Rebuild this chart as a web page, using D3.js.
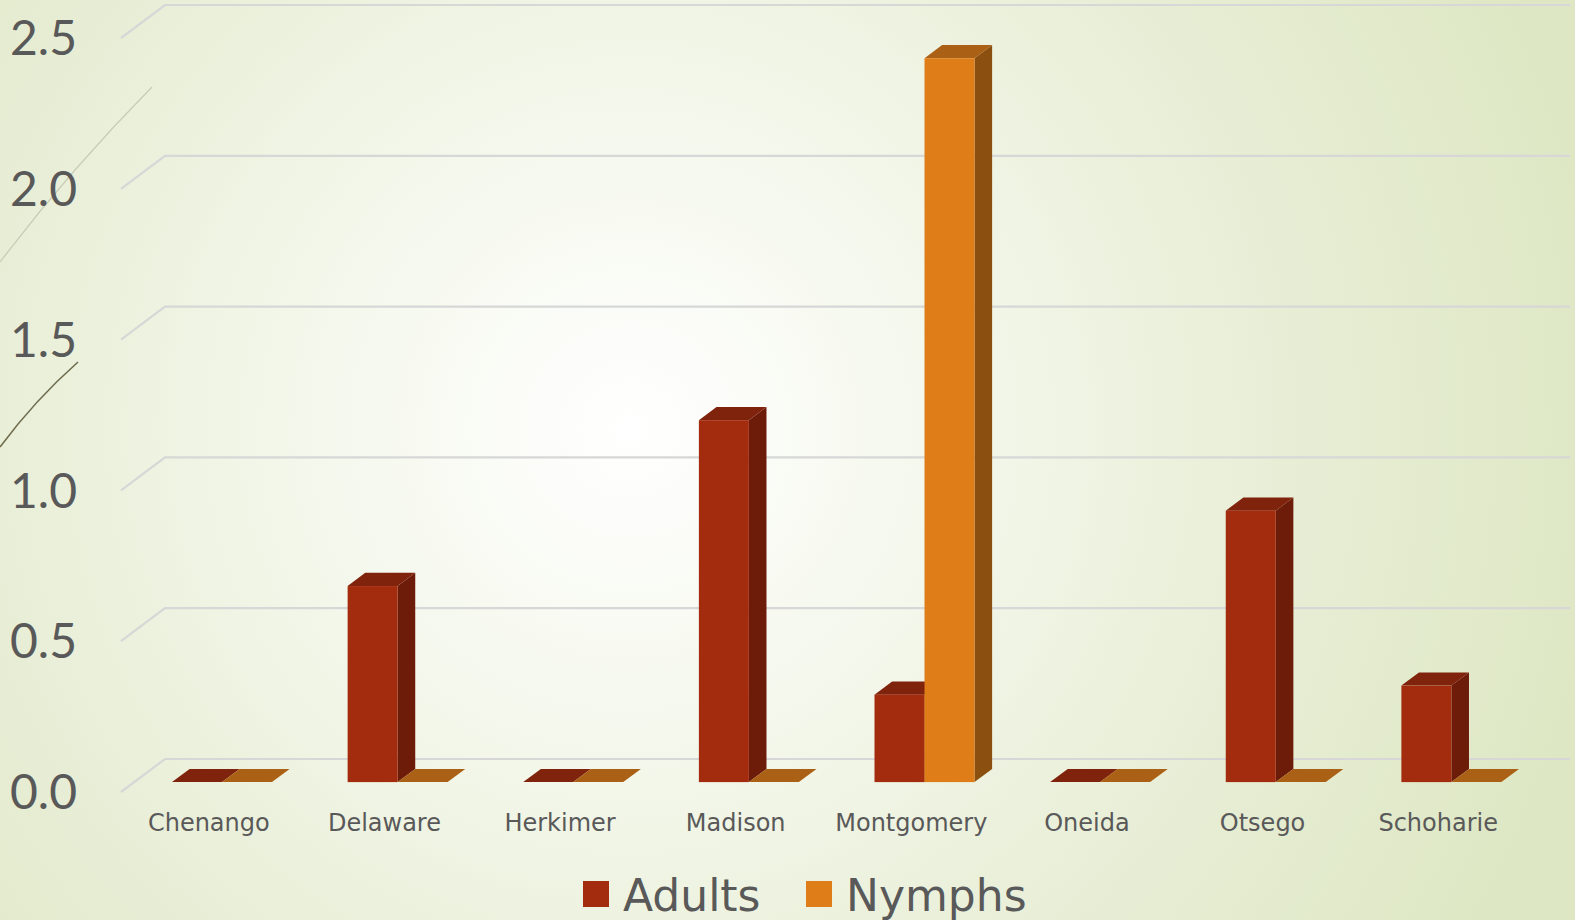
<!DOCTYPE html>
<html>
<head>
<meta charset="utf-8">
<script src="https://cdn.jsdelivr.net/npm/d3@7"></script>
<style>
  html, body { margin: 0; padding: 0; overflow: hidden; }
  #chart { width: 1575px; height: 920px; }
</style>
</head>
<body>
<div id="chart"></div>
<script>
// Data
const counties = ['Chenango', 'Delaware', 'Herkimer', 'Madison', 'Montgomery', 'Oneida', 'Otsego', 'Schoharie'];
const seriesNames = ['Adults', 'Nymphs'];
const adults = [0, 0.65, 0, 1.2, 0.29, 0, 0.9, 0.32];
const nymphs = [0, 0, 0, 0, 2.4, 0, 0, 0];
const yTicks = [0, 0.5, 1.0, 1.5, 2.0, 2.5];

const width = 1575;
const height = 920;

// oblique 3D look: depth offset of the back wall
const depthX = 44;
const depthY = 33;
const barZ0 = 0.3;   // front face of bars
const barZ1 = 0.7;   // back face of bars

const colors = {
  Adults: { front: '#a32c0e', side: '#6d1c0a', top: '#80230d' },
  Nymphs: { front: '#df7d19', side: '#8b500f', top: '#ab6115' }
};

const svg = d3.select('#chart')
  .append('svg')
  .attr('width', width)
  .attr('height', height);

// Background
const defs = svg.append('defs');
const bg = defs.append('radialGradient')
  .attr('id', 'bg')
  .attr('gradientUnits', 'userSpaceOnUse')
  .attr('cx', 630).attr('cy', 430).attr('r', 1000);
bg.append('stop').attr('offset', 0).attr('stop-color', '#ffffff');
bg.append('stop').attr('offset', 0.3).attr('stop-color', '#f5f8ed');
bg.append('stop').attr('offset', 0.65).attr('stop-color', '#e8eed6');
bg.append('stop').attr('offset', 1).attr('stop-color', '#dde7c3');

svg.append('rect')
  .attr('width', width).attr('height', height)
  .attr('fill', 'url(#bg)');

// theme decoration lines on the left
svg.append('path')
  .attr('d', 'M152,87 Q70,170 0,262')
  .attr('fill', 'none')
  .attr('stroke', '#c8cbb4')
  .attr('stroke-width', 1.2);
svg.append('path')
  .attr('d', 'M78,362 Q35,400 0,447')
  .attr('fill', 'none')
  .attr('stroke', '#6f6b4c')
  .attr('stroke-width', 1.6);

// Scales (front plane)
const x = d3.scaleBand()
  .domain(counties)
  .range([121, 1526])
  .paddingInner(0)
  .paddingOuter(0);

const xSub = d3.scaleBand()
  .domain(seriesNames)
  .range([0, x.bandwidth()])
  .paddingInner(0)
  .paddingOuter(0.756);

const y = d3.scaleLinear()
  .domain([0, 2.5])
  .range([792, 38]);

function proj(px, py, z) {
  return [px + z * depthX, py - z * depthY];
}

function poly(points) {
  return 'M' + points.map(p => p.join(',')).join('L') + 'Z';
}

// Gridlines: back wall + left wall
const grid = svg.append('g');
const [x0, x1] = x.range();
yTicks.forEach(t => {
  const a = proj(x0, y(t), 0);
  const b = proj(x0, y(t), 1);
  const c = proj(x1, y(t), 1);
  grid.append('path')
    .attr('d', `M${a[0]},${a[1]}L${b[0]},${b[1]}L${c[0]},${c[1]}`)
    .attr('fill', 'none')
    .attr('stroke', '#d6d7d6')
    .attr('stroke-width', 2.2);
});

// Y axis labels
svg.append('g')
  .selectAll('text')
  .data(yTicks)
  .join('text')
  .attr('x', 77)
  .attr('y', d => y(d))
  .attr('dy', '0.36em')
  .attr('text-anchor', 'end')
  .attr('font-family', 'Lato, sans-serif')
  .attr('font-size', 48)
  .attr('fill', '#595959')
  .text(d => d3.format('.1f')(d));

// Bars
const rows = [];
counties.forEach((c, i) => {
  rows.push({ county: c, series: 'Adults', value: adults[i] });
  rows.push({ county: c, series: 'Nymphs', value: nymphs[i] });
});

const bars = svg.append('g');
rows.forEach(d => {
  const bx0 = x(d.county) + xSub(d.series);
  const bx1 = bx0 + xSub.bandwidth();
  const yb = y(0);
  const yt = y(d.value);
  const col = colors[d.series];
  const g = bars.append('g');

  // right side
  if (d.value > 0) {
    g.append('path')
      .attr('d', poly([proj(bx1, yb, barZ0), proj(bx1, yb, barZ1), proj(bx1, yt, barZ1), proj(bx1, yt, barZ0)]))
      .attr('fill', col.side);
  }
  // top
  g.append('path')
    .attr('d', poly([proj(bx0, yt, barZ0), proj(bx1, yt, barZ0), proj(bx1, yt, barZ1), proj(bx0, yt, barZ1)]))
    .attr('fill', col.top);
  // front
  if (d.value > 0) {
    const f0 = proj(bx0, yt, barZ0);
    const f1 = proj(bx1, yb, barZ0);
    g.append('rect')
      .attr('x', f0[0])
      .attr('y', f0[1])
      .attr('width', f1[0] - f0[0])
      .attr('height', f1[1] - f0[1])
      .attr('fill', col.front);
  }
});

// Category labels
svg.append('g')
  .selectAll('text')
  .data(counties)
  .join('text')
  .attr('x', d => x(d) + x.bandwidth() / 2)
  .attr('y', 831)
  .attr('text-anchor', 'middle')
  .attr('font-family', 'DejaVu Sans, sans-serif')
  .attr('font-size', 24)
  .attr('fill', '#595959')
  .text(d => d);

// Legend
const legendPos = [
  { name: 'Adults', x: 583 },
  { name: 'Nymphs', x: 806 }
];
const legend = svg.append('g');
legendPos.forEach(l => {
  legend.append('rect')
    .attr('x', l.x).attr('y', 881)
    .attr('width', 26).attr('height', 26)
    .attr('fill', colors[l.name].front);
  legend.append('text')
    .attr('x', l.x + 40)
    .attr('y', 911)
    .attr('font-family', 'DejaVu Sans, sans-serif')
    .attr('font-size', 44)
    .attr('fill', '#595959')
    .text(l.name);
});
</script>
</body>
</html>
